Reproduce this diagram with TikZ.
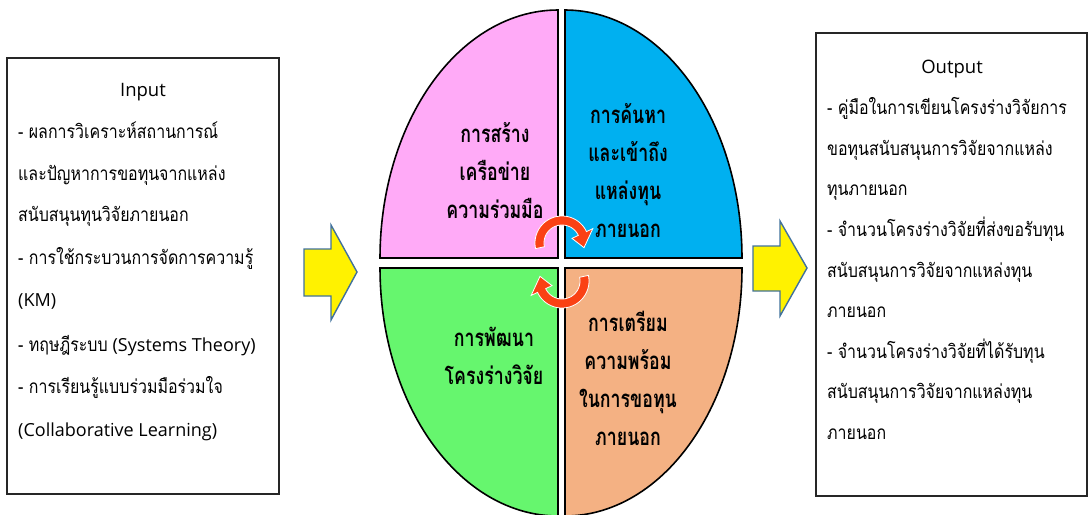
\documentclass[tikz,border=0pt]{standalone}
\usepackage{fontspec}
\setmainfont{Open Sans}
\newfontfamily\thai[Script=Thai, FakeStretch=0.84]{Loma}
\newfontfamily\thaiq[Script=Thai, FakeStretch=0.74]{Loma}
\definecolor{qpink}{RGB}{255,170,247}
\definecolor{qblue}{RGB}{0,176,240}
\definecolor{qgreen}{RGB}{102,246,110}
\definecolor{qorange}{RGB}{244,177,131}
\definecolor{arrowedge}{RGB}{65,113,156}
\definecolor{cycred}{RGB}{250,65,20}
\tikzset{
  sidebox/.style={draw=black!85, line width=1.5pt, fill=white, inner sep=0pt},
  sideline/.style={anchor=base west, inner sep=0pt, font=\fontsize{19}{22}\selectfont},
  sidetitle/.style={anchor=base, inner sep=0pt, font=\fontsize{18.5}{20}\selectfont},
  quad/.style={draw=black, line width=1.6pt},
  quadtext/.style={align=center, inner sep=0pt, font=\thaiq\bfseries\fontsize{24}{38}\selectfont},
  blockarrow/.style={fill=yellow, draw=arrowedge, line width=1.4pt, line join=miter},
  cyc/.style={fill=cycred, draw=white, line width=0.8pt}
}
\newcommand{\lat}[1]{{\fontsize{18}{20}\selectfont #1}}
\begin{document}
\begin{tikzpicture}[x=1pt,y=-1pt]
\useasboundingbox (0,0) rectangle (1089,514);

% side boxes
\node[sidebox, minimum width=272pt, minimum height=436pt] (inbox) at (143,276) {};
\node[sidebox, minimum width=271pt, minimum height=463pt] (outbox) at (951.5,264.5) {};

% input text
\node[sidetitle] (intitle) at (143,96) {Input};
\node[sideline] (in1) at (18,138) {\thai - ผลการวิเคราะห์สถานการณ์};
\node[sideline] (in2) at (18,180) {\thai และปัญหาการขอทุนจากแหล่ง};
\node[sideline] (in3) at (18,221) {\thai สนับสนุนทุนวิจัยภายนอก};
\node[sideline] (in4) at (18,264) {\thai - การใช้กระบวนการจัดการความรู้};
\node[sideline] (in5) at (18,306) {\lat{(KM)}};
\node[sideline] (in6) at (18,351) {{\thai - ทฤษฎีระบบ} \lat{(Systems Theory)}};
\node[sideline] (in7) at (18,393) {\thai - การเรียนรู้แบบร่วมมือร่วมใจ};
\node[sideline] (in8) at (18,436) {\lat{(Collaborative Learning)}};

% output text
\node[sidetitle] (outtitle) at (952,73) {Output};
\node[sideline] (out1) at (827,114) {\thai - คู่มือในการเขียนโครงร่างวิจัยการ};
\node[sideline] (out2) at (827,155) {\thai ขอทุนสนับสนุนการวิจัยจากแหล่ง};
\node[sideline] (out3) at (827,195) {\thai ทุนภายนอก};
\node[sideline] (out4) at (827,236) {\thai - จำนวนโครงร่างวิจัยที่ส่งขอรับทุน};
\node[sideline] (out5) at (827,277) {\thai สนับสนุนการวิจัยจากแหล่งทุน};
\node[sideline] (out6) at (827,317) {\thai ภายนอก};
\node[sideline] (out7) at (827,358) {\thai - จำนวนโครงร่างวิจัยที่ได้รับทุน};
\node[sideline] (out8) at (827,398) {\thai สนับสนุนการวิจัยจากแหล่งทุน};
\node[sideline] (out9) at (827,439) {\thai ภายนอก};

% quadrants
\draw[quad, fill=qpink] (558,258) -- plot[domain=180:90,samples=60] ({558+178*cos(\x)},{258-248*sin(\x)}) -- cycle;
\draw[quad, fill=qblue] (565,258) -- plot[domain=90:0,samples=60] ({565+177*cos(\x)},{258-248*sin(\x)}) -- cycle;
\draw[quad, fill=qgreen] (558,268) -- plot[domain=180:270,samples=60] ({558+178*cos(\x)},{268-248*sin(\x)}) -- cycle;
\draw[quad, fill=qorange] (565,268) -- plot[domain=360:270,samples=60] ({565+177*cos(\x)},{268-248*sin(\x)}) -- cycle;

% quadrant labels
\node[quadtext] (q1) at (495,171) {การสร้าง\\เครือข่าย\\ความร่วมมือ};
\node[quadtext] (q2) at (628,171) {การค้นหา\\และเข้าถึง\\แหล่งทุน\\ภายนอก};
\node[quadtext] (q3) at (494,356) {การพัฒนา\\โครงร่างวิจัย};
\node[quadtext] (q4) at (628,378) {การเตรียม\\ความพร้อม\\ในการขอทุน\\ภายนอก};

% circular arrows
\path[cyc] plot[domain=192:25,samples=40] ({562+27*cos(\x)},{243-27*sin(\x)})
  -- ({562+34*cos(25)},{243-34*sin(25)})
  -- ({562+22.5*cos(-12)},{243-22.5*sin(-12)})
  -- ({562+11*cos(25)},{243-11*sin(25)})
  -- plot[domain=25:192,samples=40] ({562+18*cos(\x)},{243-18*sin(\x)}) -- cycle;
\path[cyc] plot[domain=12:-155,samples=40] ({562+27*cos(\x)},{281-27*sin(\x)})
  -- ({562+34*cos(-155)},{281-34*sin(-155)})
  -- ({562+22.5*cos(-192)},{281-22.5*sin(-192)})
  -- ({562+11*cos(-155)},{281-11*sin(-155)})
  -- plot[domain=-155:12,samples=40] ({562+18*cos(\x)},{281-18*sin(\x)}) -- cycle;

% block arrows
\draw[blockarrow] (304,249) -- (331,249) -- (331,225) -- (357,272) -- (331,320) -- (331,296) -- (304,296) -- cycle;
\draw[blockarrow] (753,246) -- (780,246) -- (780,221) -- (807,268) -- (780,316) -- (780,291) -- (753,291) -- cycle;
\end{tikzpicture}
\end{document}
